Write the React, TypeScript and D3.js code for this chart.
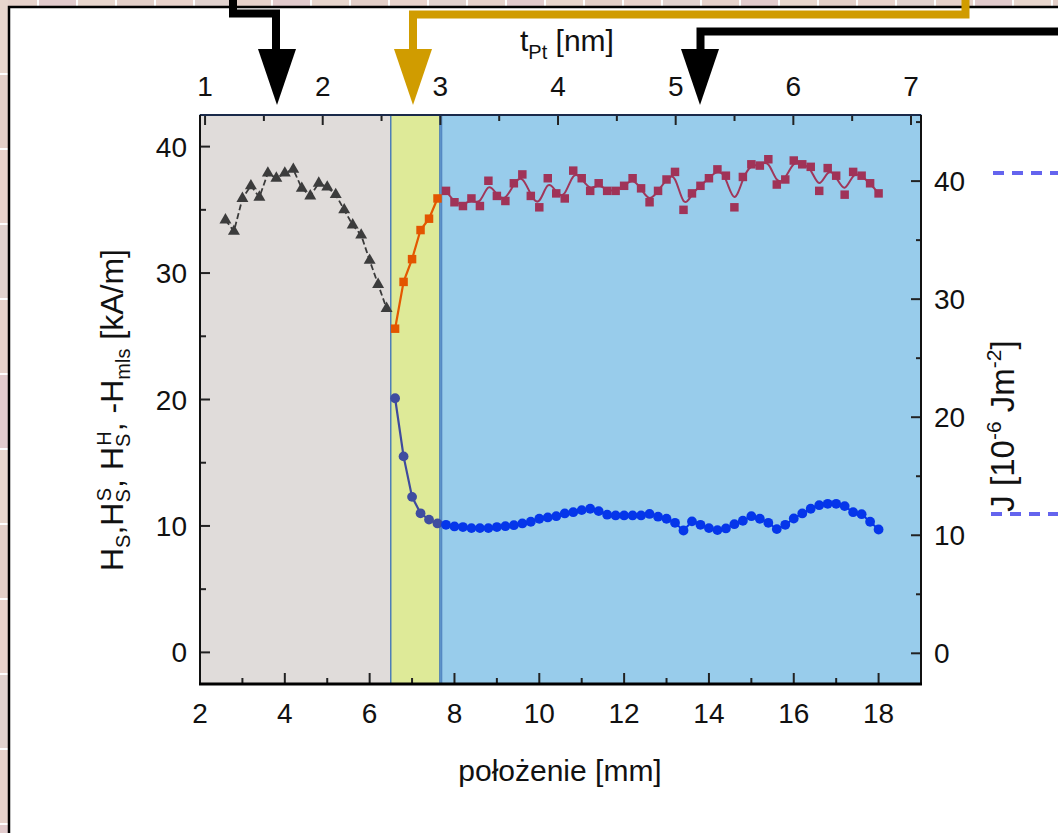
import React from "react";
import * as d3 from "d3";

const W = 1058;
const H = 833;

// ---------- data ----------
const triX = [2.6, 2.8, 3.0, 3.2, 3.4, 3.6, 3.8, 4.0, 4.2, 4.4, 4.6, 4.8, 5.0, 5.2, 5.4, 5.6, 5.8, 6.0, 6.2, 6.4];
const triY = [34.2, 33.3, 35.9, 36.9, 36.0, 37.9, 37.5, 37.9, 38.2, 36.7, 36.1, 37.1, 36.8, 36.2, 35.0, 33.8, 33.0, 31.0, 29.1, 27.2];

const midX = [6.6, 6.8, 7.0, 7.2, 7.4, 7.6];
const orangeY = [25.6, 29.3, 31.1, 33.4, 34.3, 35.9];
const navyY = [20.1, 15.5, 12.3, 11.0, 10.5, 10.2];

const rightX = [
  7.8, 8.0, 8.2, 8.4, 8.6, 8.8, 9.0, 9.2, 9.4, 9.6, 9.8, 10.0, 10.2, 10.4, 10.6, 10.8, 11.0, 11.2,
  11.4, 11.6, 11.8, 12.0, 12.2, 12.4, 12.6, 12.8, 13.0, 13.2, 13.4, 13.6, 13.8, 14.0, 14.2, 14.4,
  14.6, 14.8, 15.0, 15.2, 15.4, 15.6, 15.8, 16.0, 16.2, 16.4, 16.6, 16.8, 17.0, 17.2, 17.4, 17.6,
  17.8, 18.0,
];
const maroonY = [
  36.5, 35.6, 35.3, 35.9, 35.3, 37.3, 36.1, 35.7, 37.1, 37.8, 36.1, 35.2, 37.5, 36.3, 35.9, 38.1,
  37.5, 36.5, 37.1, 36.5, 36.5, 36.9, 37.5, 36.7, 35.6, 36.5, 37.4, 38.0, 35.0, 36.3, 36.9, 37.5,
  38.2, 37.7, 35.2, 37.6, 38.6, 38.5, 39.0, 37.0, 37.4, 38.9, 38.6, 38.4, 36.5, 38.3, 37.7, 36.2,
  38.0, 37.7, 37.1, 36.3,
];
const blueY = [
  10.09, 9.96, 9.91, 9.83, 9.83, 9.83, 9.91, 9.98, 10.06, 10.2, 10.33, 10.57, 10.67, 10.77, 10.99,
  11.09, 11.25, 11.36, 11.17, 10.89, 10.83, 10.83, 10.83, 10.83, 10.95, 10.73, 10.57, 10.25, 9.64,
  10.36, 10.09, 9.83, 9.67, 9.8, 10.14, 10.41, 10.77, 10.57, 10.25, 9.75, 10.09, 10.59, 10.99,
  11.36, 11.64, 11.75, 11.75, 11.57, 11.09, 10.93, 10.33, 9.72,
];

const regionBounds = [2, 6.5, 7.66, 19];
const regionFills = ["#E0DCDA", "#DEEA98", "#98CCEB"];

const bottomMajor = [2, 4, 6, 8, 10, 12, 14, 16, 18];
const bottomMinor = [3, 5, 7, 9, 11, 13, 15, 17];
const topMajor = [1, 2, 3, 4, 5, 6, 7];
const topMinor = [1.5, 2.5, 3.5, 4.5, 5.5, 6.5];
const leftMajor = [0, 10, 20, 30, 40];
const leftMinor = [5, 15, 25, 35];
const rightMajor = [0, 10, 20, 30, 40];
const rightMinor = [5, 15, 25, 35, 45];

// ---------- scales ----------
const PL = 200, PR = 921, PT = 115, PB = 684;
const x = d3.scaleLinear().domain([2, 19]).range([PL, PR]);
const xTop = d3.scaleLinear().domain([0.957, 7.085]).range([PL, PR]);
const yL = d3.scaleLinear().domain([-2.5, 42.5]).range([PB, PT]);
const yR = d3.scaleLinear().domain([-2.6, 45.6]).range([PB, PT]);

const FONT = "'Liberation Sans', Arial, sans-serif";

const tilePinks = ["#E6D2CB", "#E2CBCD", "#E8D6CD", "#E3CFC8", "#E9D3CC", "#E1D2CE"];

export default function App() {
  const lineStraight = d3.line<[number, number]>().x((d) => x(d[0])).y((d) => yL(d[1]));
  const lineBasis = d3
    .line<[number, number]>()
    .x((d) => x(d[0]))
    .y((d) => yL(d[1]))
    .curve(d3.curveBasis);

  const tri = d3.symbol().type(d3.symbolTriangle).size(62)();
  const sq = d3.symbol().type(d3.symbolSquare).size(72)();

  const triPts = triX.map((v, i) => [v, triY[i]] as [number, number]);
  const orangePts = midX.map((v, i) => [v, orangeY[i]] as [number, number]);
  const navyPts = midX.map((v, i) => [v, navyY[i]] as [number, number]);
  const maroonPts = rightX.map((v, i) => [v, maroonY[i]] as [number, number]);
  const bluePts = rightX.map((v, i) => [v, blueY[i]] as [number, number]);

  const topTiles = d3.range(0, W, 39);
  const leftTiles = d3.range(0, H, 75);

  return (
    <div style={{ position: "absolute", left: 0, top: 0, width: W, height: H }}>
      <svg width={W} height={H} style={{ display: "block" }} fontFamily={FONT}>
        {/* slide background tiles */}
        <rect x={0} y={0} width={W} height={H} fill="#ffffff" />
        {topTiles.map((tx, i) => (
          <rect key={"tt" + i} x={tx} y={0} width={37} height={7} fill={tilePinks[i % tilePinks.length]} />
        ))}
        {leftTiles.map((ty, i) => (
          <rect key={"lt" + i} x={0} y={ty} width={8} height={73} fill={tilePinks[(i + 2) % tilePinks.length]} />
        ))}
        {/* white panel */}
        <rect x={9} y={7} width={W} height={H} fill="#ffffff" stroke="#000" strokeWidth={2.5} />

        {/* regions */}
        {regionFills.map((f, i) => (
          <rect
            key={"rg" + i}
            x={x(regionBounds[i])}
            y={PT}
            width={x(regionBounds[i + 1]) - x(regionBounds[i])}
            height={PB - PT}
            fill={f}
            stroke="#3F74B8"
            strokeWidth={1.2}
          />
        ))}
        <line x1={x(7.7)} x2={x(7.7)} y1={PT} y2={PB} stroke="#3F74B8" strokeWidth={1} />

        {/* ticks */}
        <g stroke="#222" strokeWidth={2}>
          {bottomMajor.map((v) => (
            <line key={"bM" + v} x1={x(v)} x2={x(v)} y1={PB} y2={PB - 11} />
          ))}
          {bottomMinor.map((v) => (
            <line key={"bm" + v} x1={x(v)} x2={x(v)} y1={PB} y2={PB - 6} />
          ))}
          {topMajor.map((v) => (
            <line key={"tM" + v} x1={xTop(v)} x2={xTop(v)} y1={PT} y2={PT + 10} />
          ))}
          {topMinor.map((v) => (
            <line key={"tm" + v} x1={xTop(v)} x2={xTop(v)} y1={PT} y2={PT + 6} />
          ))}
          {leftMajor.map((v) => (
            <line key={"lM" + v} x1={PL} x2={PL + 10} y1={yL(v)} y2={yL(v)} />
          ))}
          {leftMinor.map((v) => (
            <line key={"lm" + v} x1={PL} x2={PL + 6} y1={yL(v)} y2={yL(v)} />
          ))}
          {rightMajor.map((v) => (
            <line key={"rM" + v} x1={PR} x2={PR - 10} y1={yR(v)} y2={yR(v)} />
          ))}
          {rightMinor.map((v) => (
            <line key={"rm" + v} x1={PR} x2={PR - 5} y1={yR(v)} y2={yR(v)} />
          ))}
        </g>

        {/* frame */}
        <line x1={PL} x2={PR} y1={PT} y2={PT} stroke="#1A2A4A" strokeWidth={2} />
        <line x1={PL} x2={PL} y1={PT} y2={PB} stroke="#111" strokeWidth={2} />
        <line x1={PR} x2={PR} y1={PT} y2={PB} stroke="#111" strokeWidth={2} />
        <line x1={PL - 1} x2={PR + 1} y1={PB} y2={PB} stroke="#000" strokeWidth={3} />

        {/* series: triangles */}
        <path d={lineStraight(triPts) || ""} fill="none" stroke="#3A3A3A" strokeWidth={1.8} strokeDasharray="6,3" />
        {triPts.map((p, i) => (
          <path key={"tr" + i} d={tri || ""} transform={`translate(${x(p[0])},${yL(p[1])})`} fill="#3C3C3C" />
        ))}

        {/* orange squares */}
        <path d={lineStraight(orangePts) || ""} fill="none" stroke="#E45800" strokeWidth={2.2} />
        {orangePts.map((p, i) => (
          <path key={"or" + i} d={sq || ""} transform={`translate(${x(p[0])},${yL(p[1])})`} fill="#E35500" />
        ))}

        {/* navy circles */}
        <path d={lineStraight(navyPts) || ""} fill="none" stroke="#3E4B9E" strokeWidth={2.2} />
        {navyPts.map((p, i) => (
          <circle key={"nv" + i} cx={x(p[0])} cy={yL(p[1])} r={4.9} fill="#3F4DA0" />
        ))}

        {/* maroon squares */}
        <path d={lineBasis(maroonPts) || ""} fill="none" stroke="#A0365A" strokeWidth={2} />
        {maroonPts.map((p, i) => (
          <path key={"mr" + i} d={sq || ""} transform={`translate(${x(p[0])},${yL(p[1])})`} fill="#A03358" />
        ))}

        {/* blue circles */}
        <path d={lineStraight(bluePts) || ""} fill="none" stroke="#0535E8" strokeWidth={2} />
        {bluePts.map((p, i) => (
          <circle key={"bl" + i} cx={x(p[0])} cy={yL(p[1])} r={4.9} fill="#0536EA" />
        ))}

        {/* tick labels */}
        <g fontSize={28} fill="#111">
          {bottomMajor.map((v) => (
            <text key={"bl" + v} x={x(v)} y={723} textAnchor="middle">
              {v}
            </text>
          ))}
          {topMajor.map((v) => (
            <text key={"tl" + v} x={xTop(v)} y={96} textAnchor="middle">
              {v}
            </text>
          ))}
          {leftMajor.map((v) => (
            <text key={"ll" + v} x={187} y={yL(v) + 10} textAnchor="end">
              {v}
            </text>
          ))}
          {rightMajor.map((v) => (
            <text key={"rl" + v} x={934} y={yR(v) + 10} textAnchor="start">
              {v}
            </text>
          ))}
        </g>

        {/* axis titles */}
        <text x={560} y={781} fontSize={30} textAnchor="middle" fill="#111">
          położenie [mm]
        </text>
        <text x={520} y={51} fontSize={30} fill="#111">
          t<tspan fontSize={20} dy={8}>Pt</tspan>
          <tspan dy={-8}> [nm]</tspan>
        </text>
        <text transform="translate(123,410) rotate(-90)" fontSize={32} textAnchor="middle" fill="#111">
          H<tspan fontSize={20} dy={7}>S</tspan>
          <tspan dy={-7}>,H</tspan>
          <tspan fontSize={20} dy={7}>S</tspan>
          <tspan fontSize={20} dx={-12} dy={-19}>S</tspan>
          <tspan dy={12}>, H</tspan>
          <tspan fontSize={20} dy={7}>S</tspan>
          <tspan fontSize={20} dx={-12} dy={-19}>H</tspan>
          <tspan dy={12}>, -H</tspan>
          <tspan fontSize={20} dy={7}>mls</tspan>
          <tspan dy={-7}> [kA/m]</tspan>
        </text>
        <text transform="translate(1014,426) rotate(-90)" fontSize={33} textAnchor="middle" fill="#111">
          J [10<tspan fontSize={21} dy={-13}>-6</tspan>
          <tspan dy={13}> Jm</tspan>
          <tspan fontSize={21} dy={-13}>-2</tspan>
          <tspan dy={13}>]</tspan>
        </text>

        {/* dashed lines at right */}
        <line x1={993} x2={W} y1={173} y2={173} stroke="#6464EE" strokeWidth={4} strokeDasharray="11,8" />
        <line x1={991} x2={W} y1={514} y2={514} stroke="#6464EE" strokeWidth={4} strokeDasharray="11,8" />

        {/* arrows */}
        <path d="M233,0 V13.5 H276 V52" fill="none" stroke="#000" strokeWidth={8} strokeLinejoin="miter" />
        <polygon points="258,49 296,49 277,105" fill="#000" />
        <path d="M965.5,0 V14.5 H413 V52" fill="none" stroke="#D09C00" strokeWidth={8} strokeLinejoin="miter" />
        <polygon points="394,49 432,49 413,105" fill="#D09C00" />
        <path d="M1058,31.5 H700.5 V52" fill="none" stroke="#000" strokeWidth={8} strokeLinejoin="miter" />
        <polygon points="681,49 719,49 700,105" fill="#000" />
      </svg>
    </div>
  );
}
